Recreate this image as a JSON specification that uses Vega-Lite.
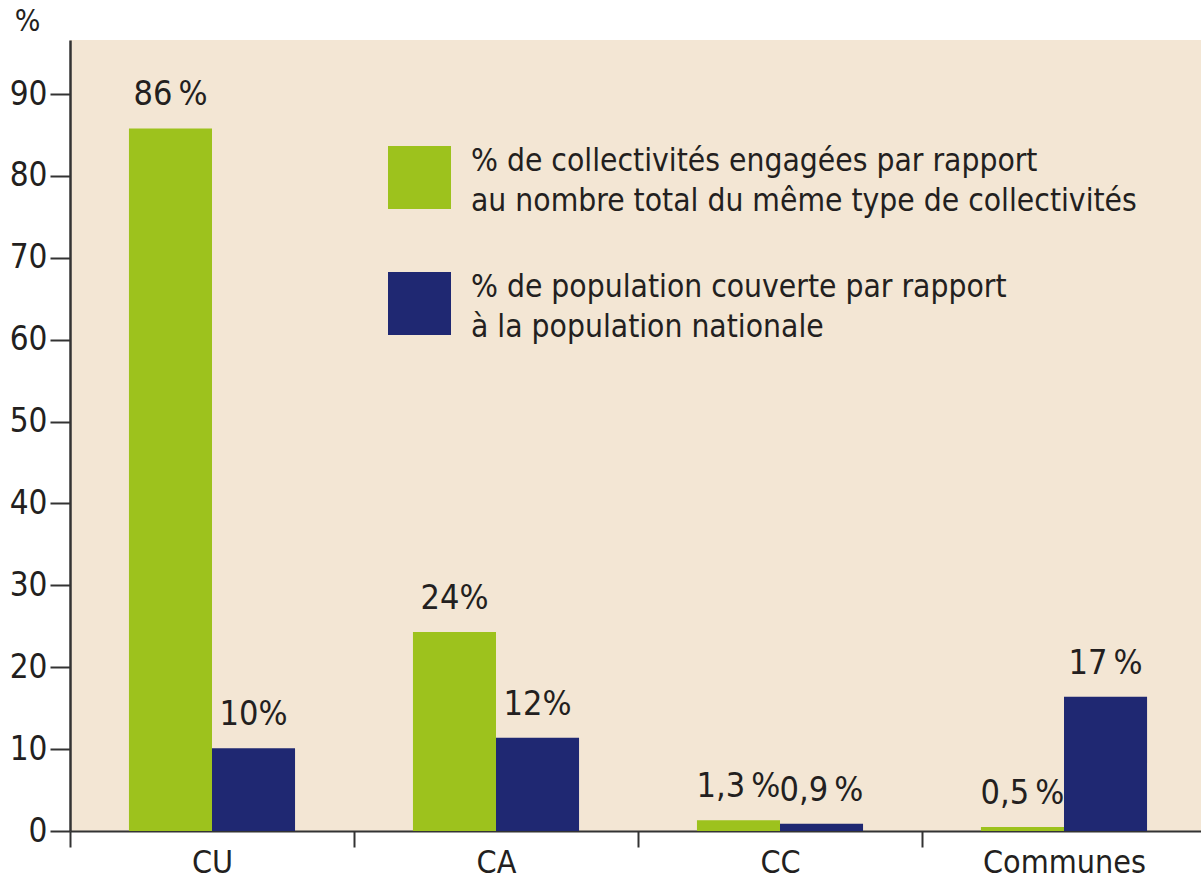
{
  "$schema": "https://vega.github.io/schema/vega-lite/v6.json",
  "width": 1136,
  "height": 791,
  "autosize": {"type": "none"},
  "padding": {"left": 70, "top": 40, "right": 0, "bottom": 50},
  "background": "white",
  "config": {
    "view": {"fill": "#f3e6d4", "stroke": null},
    "font": "DejaVu Sans Condensed, Open Sans, sans-serif",
    "text": {"font": "DejaVu Sans Condensed, Open Sans, sans-serif", "color": "#231f20"},
    "style": {"guide-label": {"lineHeight": 40}}
  },
  "data": {
    "values": [
      {"type": "CU", "serie": "% de collectivités engagées par rapport| au nombre total du même type de collectivités", "valeur": 85.8, "label": "86\u202f%"},
      {"type": "CU", "serie": "% de population couverte par rapport|à la population nationale", "valeur": 10.1, "label": "10%"},
      {"type": "CA", "serie": "% de collectivités engagées par rapport| au nombre total du même type de collectivités", "valeur": 24.3, "label": "24%"},
      {"type": "CA", "serie": "% de population couverte par rapport|à la population nationale", "valeur": 11.4, "label": "12%"},
      {"type": "CC", "serie": "% de collectivités engagées par rapport| au nombre total du même type de collectivités", "valeur": 1.3, "label": "1,3\u202f%"},
      {"type": "CC", "serie": "% de population couverte par rapport|à la population nationale", "valeur": 0.9, "label": "0,9\u202f%"},
      {"type": "Communes", "serie": "% de collectivités engagées par rapport| au nombre total du même type de collectivités", "valeur": 0.5, "label": "0,5\u202f%"},
      {"type": "Communes", "serie": "% de population couverte par rapport|à la population nationale", "valeur": 16.4, "label": "17\u202f%"}
    ]
  },
  "encoding": {
    "x": {
      "field": "type", "type": "nominal", "sort": ["CU", "CA", "CC", "Communes"],
      "scale": {"paddingInner": 0, "paddingOuter": 0},
      "axis": {
        "title": null, "labelAngle": 0, "tickBand": "extent", "tickSize": 16, "tickWidth": 2,
        "tickColor": "#333", "domainColor": "#333", "domainWidth": 2,
        "labelFontSize": 32, "labelColor": "#231f20", "labelPadding": 0
      }
    },
    "xOffset": {
      "field": "serie", "type": "nominal",
      "sort": ["% de collectivités engagées par rapport| au nombre total du même type de collectivités", "% de population couverte par rapport|à la population nationale"],
      "scale": {"paddingInner": 0, "paddingOuter": 0.71}
    },
    "y": {
      "field": "valeur", "type": "quantitative",
      "scale": {"domain": [0, 96.6], "nice": false, "zero": true},
      "axis": {
        "values": [0, 10, 20, 30, 40, 50, 60, 70, 80, 90], "grid": false,
        "tickSize": 20, "tickWidth": 2, "tickColor": "#333", "domainColor": "#333", "domainWidth": 2.5,
        "labelFontSize": 33, "labelColor": "#231f20", "labelPadding": 3,
        "title": "%", "titleAngle": 0, "titleAlign": "center", "titleBaseline": "bottom",
        "titleX": -43, "titleY": -4, "titleFontSize": 30, "titleFontWeight": "normal", "titleColor": "#231f20"
      }
    }
  },
  "layer": [
    {
      "mark": {"type": "bar"},
      "encoding": {
        "color": {
          "field": "serie", "type": "nominal",
          "scale": {
            "domain": ["% de collectivités engagées par rapport| au nombre total du même type de collectivités", "% de population couverte par rapport|à la population nationale"],
            "range": ["#9dc21d", "#1f2872"]
          },
          "legend": {
            "title": null, "orient": "none", "legendX": 318, "legendY": 106,
            "symbolType": "square", "symbolSize": 3969, "symbolStrokeWidth": 0, "symbolOpacity": 1,
            "labelExpr": "split(datum.label, '|')", "labelFontSize": 31.5,
            "labelColor": "#231f20", "labelOffset": 20,
            "labelLimit": 0, "rowPadding": 54, "labelBaseline": "bottom"
          }
        }
      }
    },
    {
      "mark": {"type": "text", "baseline": "bottom", "dy": -16, "fontSize": 34},
      "encoding": {"text": {"field": "label"}}
    }
  ]
}
